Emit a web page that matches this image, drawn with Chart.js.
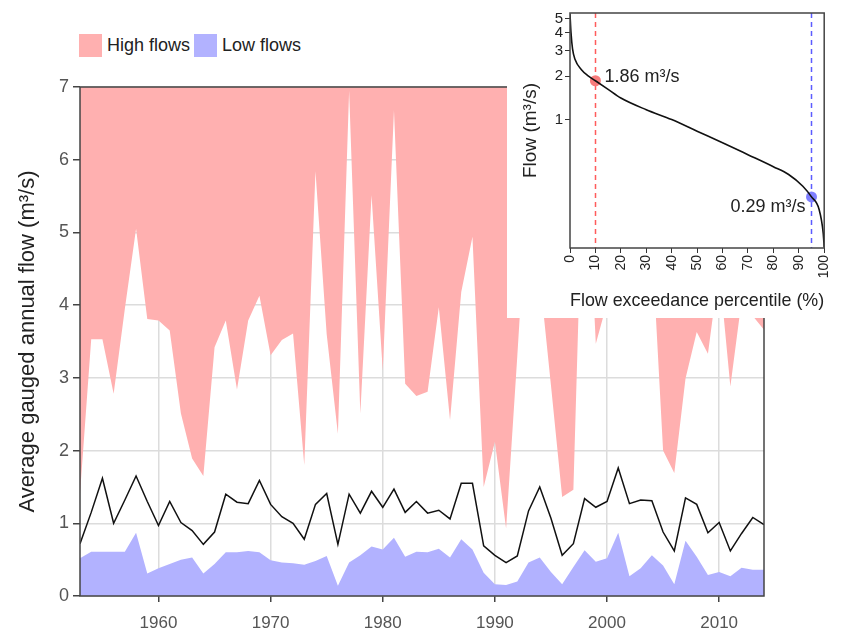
<!DOCTYPE html>
<html>
<head>
<meta charset="utf-8">
<script src="https://cdn.jsdelivr.net/npm/chart.js@4.4.1/dist/chart.umd.min.js"></script>
<style>
  body { margin: 0; background: #fff; }
  #wrap { position: relative; width: 843px; height: 632px; background: #fff; font-family: 'Liberation Sans', Arial, sans-serif; }
  #mainChart { position: absolute; left: 0; top: 0; }
  #insetChart { position: absolute; left: 507px; top: 0; background: #fff; }
  #legend { position: absolute; left: 79px; top: 34px; display: flex; align-items: center; font-size: 18px; color: #222; }
  #legend .box { width: 23px; height: 23px; display: inline-block; }
  #legend .txt { margin: 0 4px 0 5px; }
</style>
</head>
<body>
<div id="wrap">
  <div id="legend"></div>
  <canvas id="mainChart" width="843" height="632"></canvas>
  <canvas id="insetChart" width="336" height="318"></canvas>
</div>
<script>
// Years of record
const years = [1953, 1954, 1955, 1956, 1957, 1958, 1959, 1960, 1961, 1962,
  1963, 1964, 1965, 1966, 1967, 1968, 1969, 1970, 1971, 1972,
  1973, 1974, 1975, 1976, 1977, 1978, 1979, 1980, 1981, 1982,
  1983, 1984, 1985, 1986, 1987, 1988, 1989, 1990, 1991, 1992,
  1993, 1994, 1995, 1996, 1997, 1998, 1999, 2000, 2001, 2002,
  2003, 2004, 2005, 2006, 2007, 2008, 2009, 2010, 2011, 2012,
  2013, 2014];

// Lower edge of the high flow band (band is filled up to the top of the axis)
const highFlows = [1.41, 3.53, 3.53, 2.78, 3.95, 5.05, 3.81, 3.79, 3.65, 2.51,
  1.89, 1.65, 3.42, 3.79, 2.84, 3.79, 4.13, 3.31, 3.52, 3.61,
  1.80, 5.84, 3.60, 2.23, 6.95, 2.51, 5.51, 3.10, 6.68, 2.92,
  2.75, 2.81, 3.97, 2.42, 4.18, 4.94, 1.50, 2.12, 0.93, 3.30,
  5.80, 4.40, 2.90, 1.36, 1.46, 6.75, 3.47, 4.03, 5.20, 4.40,
  4.60, 4.87, 2.00, 1.69, 2.99, 3.63, 3.33, 4.50, 2.88, 4.06,
  3.85, 3.66];

// Average gauged annual flow
const avgFlows = [0.72, 1.15, 1.62, 1.00, 1.32, 1.65, 1.30, 0.97, 1.30, 1.01,
  0.90, 0.71, 0.88, 1.40, 1.29, 1.27, 1.59, 1.26, 1.09, 1.00,
  0.78, 1.26, 1.41, 0.71, 1.40, 1.14, 1.44, 1.22, 1.47, 1.15,
  1.30, 1.14, 1.18, 1.06, 1.55, 1.55, 0.69, 0.56, 0.46, 0.55,
  1.17, 1.50, 1.07, 0.56, 0.72, 1.34, 1.22, 1.30, 1.76, 1.27,
  1.32, 1.31, 0.88, 0.62, 1.35, 1.26, 0.87, 1.01, 0.62, 0.86,
  1.08, 0.98];

// Upper edge of the low flow band (band is filled down to zero)
const lowFlows = [0.52, 0.61, 0.61, 0.61, 0.61, 0.87, 0.31, 0.38, 0.44, 0.50,
  0.53, 0.31, 0.44, 0.60, 0.60, 0.62, 0.60, 0.49, 0.46, 0.45,
  0.43, 0.48, 0.55, 0.14, 0.46, 0.56, 0.68, 0.64, 0.80, 0.54,
  0.61, 0.60, 0.65, 0.53, 0.78, 0.64, 0.32, 0.16, 0.15, 0.20,
  0.46, 0.53, 0.33, 0.16, 0.40, 0.63, 0.47, 0.52, 0.87, 0.27,
  0.38, 0.56, 0.42, 0.16, 0.76, 0.54, 0.29, 0.33, 0.27, 0.39,
  0.36, 0.36];

const yearTicks = [1960, 1970, 1980, 1990, 2000, 2010];
const flowTicks = [0, 1, 2, 3, 4, 5, 6, 7];

// Inset: flow duration curve
const exceedPct = [0, 0.4, 1, 2, 4.5, 7, 10, 15, 20, 30, 40, 50, 60, 70, 80, 86, 91.6, 95, 98, 99.6, 100];
const exceedFlow = [5.4, 4.0, 3.1, 2.61, 2.22, 2.02, 1.86, 1.62, 1.41, 1.17, 1.0, 0.83, 0.69, 0.57, 0.47, 0.415, 0.344, 0.29, 0.237, 0.163, 0.13];
const pctTicks = [0, 10, 20, 30, 40, 50, 60, 70, 80, 90, 100];
const insetFlowTicks = [1, 2, 3, 4, 5];

// Marked percentiles: Q10 (high) and Q95 (low)
const markerPct = [10, 95];
const markerFlow = [1.86, 0.29];

const pink = '#ffb0b0';
const lavender = '#b2b2ff';
const FONT = "'Liberation Sans', Arial, sans-serif";

const toPoints = (xs, ys) => xs.map((x, i) => ({ x: x, y: ys[i] }));

// Box round the plot area, drawn on top of the filled bands
const frameBox = {
  id: 'frameBox',
  afterDatasetsDraw(chart) {
    const a = chart.chartArea;
    const ctx = chart.ctx;
    ctx.save();
    ctx.strokeStyle = '#444';
    ctx.lineWidth = 1.5;
    ctx.strokeRect(a.left, a.top, a.right - a.left, a.bottom - a.top);
    ctx.restore();
  }
};

// Main chart
const mainChart = new Chart(document.getElementById('mainChart'), {
  type: 'line',
  data: {
    datasets: [
      {
        label: 'High flows',
        data: toPoints(years, highFlows),
        fill: 'end',
        backgroundColor: pink,
        borderWidth: 0,
        pointRadius: 0
      },
      {
        label: 'Low flows',
        data: toPoints(years, lowFlows),
        fill: 'origin',
        backgroundColor: lavender,
        borderWidth: 0,
        pointRadius: 0
      },
      {
        label: 'Average',
        data: toPoints(years, avgFlows),
        fill: false,
        borderColor: '#111',
        borderWidth: 1.5,
        pointRadius: 0
      }
    ]
  },
  options: {
    responsive: false,
    animation: false,
    layout: { padding: { top: 87, right: 79, left: 0, bottom: 0 } },
    plugins: { legend: { display: false }, tooltip: { enabled: false } },
    scales: {
      x: {
        type: 'linear',
        min: 1953,
        max: 2014,
        afterBuildTicks: (scale) => { scale.ticks = yearTicks.map(v => ({ value: v })); },
        afterFit: (scale) => { scale.height = 36; },
        grid: { color: '#dcdcdc', lineWidth: 1.5, tickLength: 6, tickColor: '#444' },
        border: { display: false },
        ticks: { font: { family: FONT, size: 17 }, color: '#555', padding: 11, callback: v => String(v) }
      },
      y: {
        min: 0,
        max: 7,
        afterBuildTicks: (scale) => { scale.ticks = flowTicks.map(v => ({ value: v })); },
        afterFit: (scale) => { scale.width = 80; },
        grid: { color: '#dcdcdc', lineWidth: 1.5, tickLength: 7, tickColor: '#444' },
        border: { display: false },
        ticks: { font: { family: FONT, size: 18 }, color: '#555', padding: 4 },
        title: {
          display: true,
          text: 'Average gauged annual flow (m³/s)',
          font: { family: FONT, size: 22 },
          color: '#222',
          padding: { top: 15, bottom: 0 }
        }
      }
    }
  },
  plugins: [frameBox]
});

// HTML legend for the two bands
const legendDiv = document.getElementById('legend');
mainChart.data.datasets.slice(0, 2).forEach(ds => {
  const box = document.createElement('span');
  box.className = 'box';
  box.style.background = ds.backgroundColor;
  const txt = document.createElement('span');
  txt.className = 'txt';
  txt.textContent = ds.label;
  legendDiv.appendChild(box);
  legendDiv.appendChild(txt);
});

// Dashed guide lines and value labels for the marked percentiles
const markerColors = ['#f77b7b', '#7f7fff'];
const guideColors = ['#ff5c5c', '#5c5cff'];
const markerLines = {
  id: 'markerLines',
  beforeDatasetsDraw(chart) {
    const ctx = chart.ctx;
    const a = chart.chartArea;
    ctx.save();
    ctx.lineWidth = 1.5;
    ctx.setLineDash([5, 4]);
    markerPct.forEach((p, i) => {
      const px = Math.round(chart.scales.x.getPixelForValue(p)) + 0.5;
      ctx.strokeStyle = guideColors[i];
      ctx.beginPath();
      ctx.moveTo(px, a.top);
      ctx.lineTo(px, a.bottom);
      ctx.stroke();
    });
    ctx.restore();
  },
  afterDatasetsDraw(chart) {
    const ctx = chart.ctx;
    ctx.save();
    ctx.font = '18px ' + FONT;
    ctx.fillStyle = '#222';
    ctx.textBaseline = 'middle';
    markerPct.forEach((p, i) => {
      const px = chart.scales.x.getPixelForValue(p);
      const py = chart.scales.y.getPixelForValue(markerFlow[i]);
      const label = markerFlow[i].toFixed(2) + ' m³/s';
      if (i === 0) {
        ctx.textAlign = 'left';
        ctx.fillText(label, px + 9, py - 4);
      } else {
        ctx.textAlign = 'right';
        ctx.fillText(label, px - 6, py + 10);
      }
    });
    ctx.restore();
  }
};

// Inset chart: flow duration curve
const insetChart = new Chart(document.getElementById('insetChart'), {
  type: 'line',
  data: {
    datasets: [
      {
        label: 'Flow duration',
        data: toPoints(exceedPct, exceedFlow),
        borderColor: '#111',
        borderWidth: 1.6,
        pointRadius: 0,
        fill: false,
        cubicInterpolationMode: 'monotone'
      },
      {
        label: 'Markers',
        data: toPoints(markerPct, markerFlow),
        showLine: false,
        pointRadius: 5.5,
        pointBorderWidth: 0,
        pointBackgroundColor: markerColors,
        pointBorderColor: markerColors
      }
    ]
  },
  options: {
    responsive: false,
    animation: false,
    layout: { padding: { top: 13, right: 16, left: 0, bottom: 0 } },
    plugins: { legend: { display: false }, tooltip: { enabled: false } },
    scales: {
      x: {
        type: 'linear',
        min: 0,
        max: 100,
        afterBuildTicks: (scale) => { scale.ticks = pctTicks.map(v => ({ value: v })); },
        afterFit: (scale) => { scale.height = 70; },
        grid: { drawOnChartArea: false, tickLength: 5, tickColor: '#333' },
        border: { display: false },
        ticks: { font: { family: FONT, size: 14 }, color: '#222', padding: 2, minRotation: 90, maxRotation: 90 },
        title: {
          display: true,
          text: 'Flow exceedance percentile (%)',
          font: { family: FONT, size: 19 },
          color: '#222',
          padding: { top: 0, bottom: 6 }
        }
      },
      y: {
        type: 'logarithmic',
        min: 0.128,
        max: 5.5,
        afterBuildTicks: (scale) => { scale.ticks = insetFlowTicks.map(v => ({ value: v })); },
        afterFit: (scale) => { scale.width = 63; },
        grid: { drawOnChartArea: false, tickLength: 5, tickColor: '#333' },
        border: { display: false },
        ticks: { font: { family: FONT, size: 15 }, color: '#222', padding: 2, callback: v => String(v) },
        title: {
          display: true,
          text: 'Flow (m³/s)',
          font: { family: FONT, size: 19 },
          color: '#222',
          padding: { top: 12, bottom: 0 }
        }
      }
    }
  },
  plugins: [markerLines, frameBox]
});
</script>
</body>
</html>
